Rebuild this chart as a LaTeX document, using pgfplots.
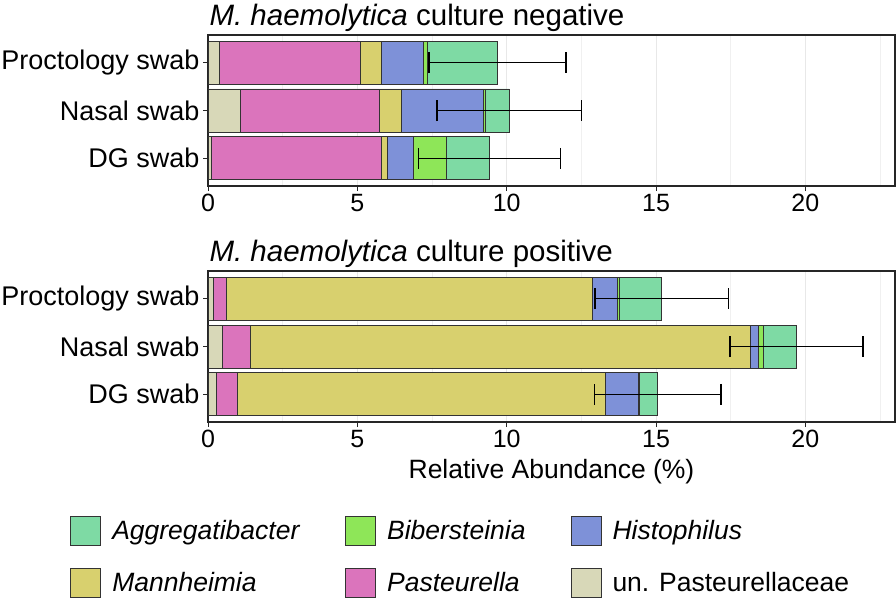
\documentclass[border=0pt]{standalone}
\usepackage{fontspec}
\setmainfont{Liberation Sans}
\usepackage{pgfplots}
\pgfplotsset{compat=1.18}

\definecolor{cagg}{RGB}{126,218,164}
\definecolor{cbib}{RGB}{142,230,88}
\definecolor{chis}{RGB}{126,145,216}
\definecolor{cman}{RGB}{216,208,110}
\definecolor{cpas}{RGB}{219,116,188}
\definecolor{cunp}{RGB}{216,216,184}

\pgfplotsset{
  geom/.style={
    scale only axis, width=687pt, height=151pt,
    xmin=0, xmax=23, ymin=0.42, ymax=3.58,
  },
  panel/.style={
    geom, xbar stacked,
    bar width=0.9,
    ytick={1,2,3}, yticklabels={DG swab,Nasal swab,Proctology swab},
    yticklabel style={font=\fontsize{27}{30}\selectfont},
    xtick={0,5,10,15,20}, minor xtick={2.5,7.5,12.5,17.5,22.5},
    xmajorgrids, xminorgrids,
    major grid style={black!9, line width=0.9pt},
    minor grid style={black!6, line width=0.7pt},
    tick align=outside, major tick length=5pt, minor tick length=0pt,
    xtick pos=bottom, ytick pos=left,
    axis line style={line width=1.2pt, black!85},
    major tick style={line width=1pt, black!85},
    xticklabel style={font=\fontsize{25}{30}\selectfont},
    /pgf/number format/assume math mode=true,
    every axis plot/.append style={draw=black!80, line width=0.9pt},
  },
  errs/.style={draw=none, mark=none, line width=1.5pt,
    error bars/.cd, x dir=both, x explicit, error mark=|,
    error bar style={draw=black, line width=1.5pt},
    error mark options={draw=black, line width=1.5pt, mark size=10.5pt}},
}

\begin{document}
\begin{tikzpicture}
\useasboundingbox (0,0) rectangle (896pt,-597pt);

\node[anchor=base west, font=\fontsize{29.5}{32}\selectfont] at (206pt,-25pt)
  {\textit{M. haemolytica} culture negative};
\node[anchor=base west, font=\fontsize{29.5}{32}\selectfont] at (206pt,-261pt)
  {\textit{M. haemolytica} culture positive};

% culture negative
\begin{axis}[panel, at={(208pt,-35pt)}, anchor=north west]
  \addplot[fill=cunp] coordinates {(0.12,1) (1.07,2) (0.37,3)};
  \addplot[fill=cpas] coordinates {(5.68,1) (4.67,2) (4.73,3)};
  \addplot[fill=cman] coordinates {(0.22,1) (0.72,2) (0.70,3)};
  \addplot[fill=chis] coordinates {(0.85,1) (2.76,2) (1.40,3)};
  \addplot[fill=cbib] coordinates {(1.12,1) (0.08,2) (0.14,3)};
  \addplot[fill=cagg] coordinates {(1.43,1) (0.78,2) (2.35,3)};
\end{axis}
\begin{axis}[geom, hide axis, at={(208pt,-35pt)}, anchor=north west]
  \addplot[errs] coordinates {
    (9.42,1) +- (2.38,0)
    (10.08,2) +- (2.42,0)
    (9.69,3) +- (2.29,0)
  };
\end{axis}

% culture positive
\begin{axis}[panel, at={(208pt,-271pt)}, anchor=north west,
  xlabel={Relative Abundance (\%)},
  xlabel style={font=\fontsize{26.5}{30}\selectfont, yshift=-4pt},
  legend columns=3, reverse legend, legend cell align=left,
  legend image code/.code={\draw[#1, line width=0.9pt] (0pt,-14.5pt) rectangle (30pt,14.5pt);},
  legend style={at={(-0.205,-0.606)}, anchor=north west, draw=none, fill=none,
    font=\fontsize{26.5}{30}\selectfont, row sep=22.5pt,
    /tikz/every even column/.append style={column sep=43pt},
    /tikz/every odd column/.append style={column sep=9pt}},
]
  \addplot[fill=cunp] coordinates {(0.27,1) (0.49,2) (0.18,3)};
  \addlegendentry{un. Pasteurellaceae}
  \addplot[fill=cpas] coordinates {(0.73,1) (0.92,2) (0.43,3)};
  \addlegendentry{\textit{Pasteurella}}
  \addplot[fill=cman] coordinates {(12.29,1) (16.75,2) (12.26,3)};
  \addlegendentry{\textit{Mannheimia}}
  \addplot[fill=chis] coordinates {(1.13,1) (0.26,2) (0.84,3)};
  \addlegendentry{\textit{Histophilus}}
  \addplot[fill=cbib] coordinates {(0.02,1) (0.16,2) (0.07,3)};
  \addlegendentry{\textit{Bibersteinia}}
  \addplot[fill=cagg] coordinates {(0.62,1) (1.12,2) (1.41,3)};
  \addlegendentry{\textit{Aggregatibacter}}
\end{axis}
\begin{axis}[geom, hide axis, at={(208pt,-271pt)}, anchor=north west]
  \addplot[errs] coordinates {
    (15.06,1) +- (2.12,0)
    (19.70,2) +- (2.22,0)
    (15.19,3) +- (2.23,0)
  };
\end{axis}
\end{tikzpicture}
\end{document}
